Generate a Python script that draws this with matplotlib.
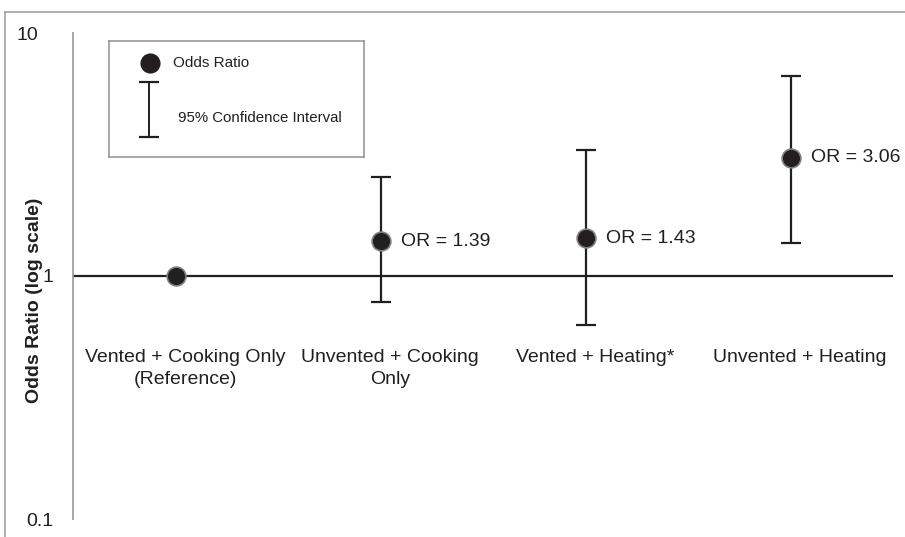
import numpy as np
import matplotlib
matplotlib.use("Agg")
import matplotlib.pyplot as plt
from matplotlib.lines import Line2D
from matplotlib.transforms import ScaledTranslation

# Data
categories = ["Vented + Cooking Only\n(Reference)", "Unvented + Cooking\nOnly",
              "Vented + Heating*", "Unvented + Heating"]
odds = [1.0, 1.39, 1.43, 3.06]
ci_low = [1.0, 0.78, 0.63, 1.37]
ci_high = [1.0, 2.55, 3.30, 6.64]
or_labels = ["", "OR = 1.39", "OR = 1.43", "OR = 3.06"]
ytick_vals = [0.1, 1, 10]
ytick_labels = ["0.1", "1", "10"]

plt.rcParams['font.family'] = ['Liberation Sans', 'DejaVu Sans']
txt_col = "#231f20"

W, H = 905, 537
fig = plt.figure(figsize=(W / 100, H / 100), dpi=100)

# outer frame (only top and left are visible in the original)
frame_col = "#a8a8a8"
fig.add_artist(Line2D([5 / W, 1], [1 - 12 / H, 1 - 12 / H], color=frame_col, lw=1.3,
                      transform=fig.transFigure))
fig.add_artist(Line2D([5 / W, 5 / W], [0, 1 - 12 / H], color=frame_col, lw=1.3,
                      transform=fig.transFigure))

ax = fig.add_axes([73 / W, 1 - 519 / H, (893 - 73) / W, (519 - 33) / H])
ax.set_yscale("log")
ax.set_ylim(0.1, 10)
ax.set_xlim(-0.5, 3.5)

x = np.arange(len(categories))
odds = np.array(odds)
lo = np.array(ci_low)
hi = np.array(ci_high)

ax.axhline(1, color=txt_col, lw=1.6, zorder=1)

has_ci = hi > lo
ax.errorbar(x[has_ci], odds[has_ci], yerr=[odds[has_ci] - lo[has_ci], hi[has_ci] - odds[has_ci]],
            fmt="none", ecolor=txt_col, elinewidth=1.6, capsize=7, capthick=1.6, zorder=2)
ax.plot(x, odds, "o", ms=13.5, mfc=txt_col, mec="#808080", mew=1.2, ls="none", zorder=3)

for xi, yi, lab in zip(x, odds, or_labels):
    if lab:
        ax.annotate(lab, (xi, yi), xytext=(15, 0), textcoords="offset points",
                    va="center", ha="left", fontsize=14, color=txt_col)

# category labels sit a little right of the points, like in the original
for xi, lab in zip(x, categories):
    ax.annotate(lab, (xi, 0.50), xytext=(7, 0), textcoords="offset points",
                ha="center", va="top", fontsize=14, color=txt_col, linespacing=1.35)

ax.set_xticks([])
ax.set_yticks(ytick_vals)
ax.set_yticklabels(ytick_labels, fontsize=14, color=txt_col)
ax.minorticks_off()
ax.tick_params(axis="y", length=0, pad=14)
# the "10" label sits further left in the original
top_lab = ax.get_yticklabels()[2]
top_lab.set_transform(top_lab.get_transform() + ScaledTranslation(-0.15, 0, fig.dpi_scale_trans))
for s in ["top", "right", "bottom"]:
    ax.spines[s].set_visible(False)
ax.spines["left"].set_color("#a0a0a0")
ax.spines["left"].set_linewidth(1.3)

fig.text(35 / W, 1 - 300 / H, "Odds Ratio (log scale)", rotation=90, ha="center",
         va="center", fontsize=14, fontweight="bold", color=txt_col)

# legend box drawn as a small inset
lax = fig.add_axes([109 / W, 1 - 157 / H, (364 - 109) / W, (157 - 41) / H])
lax.set_xlim(0, 1)
lax.set_ylim(0, 1)
lax.set_xticks([])
lax.set_yticks([])
for s in lax.spines.values():
    s.set_color("#909090")
    s.set_linewidth(1.1)
lax.plot([0.16], [0.81], "o", ms=13.5, mfc=txt_col, mec=txt_col)
lax.text(0.25, 0.81, "Odds Ratio", va="center", fontsize=11, color=txt_col)
lax.errorbar([0.157], [0.41], yerr=[[0.237], [0.237]], fmt="none", ecolor=txt_col,
             elinewidth=1.4, capsize=7, capthick=1.6)
lax.text(0.27, 0.336, "95% Confidence Interval", va="center", fontsize=10.8, color=txt_col)

fig.savefig("out.png", dpi=100)
